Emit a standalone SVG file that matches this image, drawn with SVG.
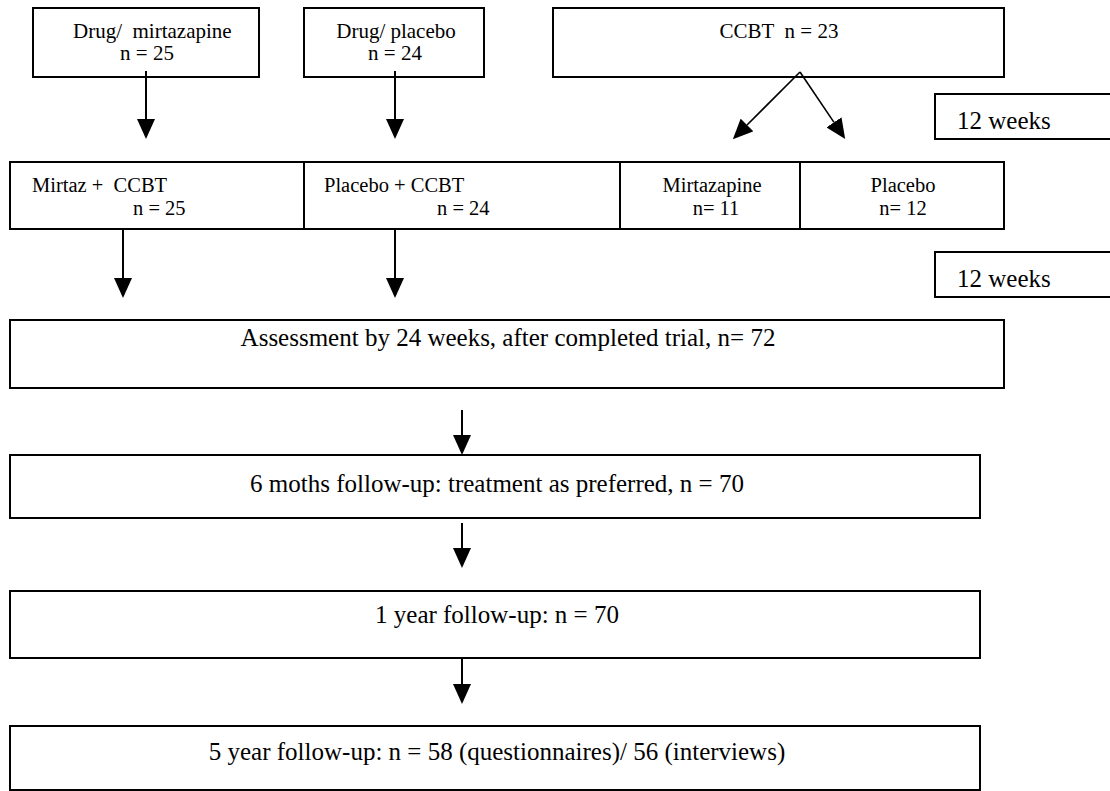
<svg xmlns="http://www.w3.org/2000/svg" width="1110" height="791" viewBox="0 0 1110 791">
<style>
  .box { fill: #fff; stroke: #000; stroke-width: 2; }
  .t { font-family: "Liberation Serif", "Times New Roman", serif; fill: #000; white-space: pre; }
  .s { font-size: 21px; }
  .s2 { font-size: 20.5px; }
  .l { font-size: 25px; }
  .m { text-anchor: middle; }
  .c { stroke: #000; stroke-width: 2; fill: none; }
  .d { stroke: #000; stroke-width: 1.6; fill: none; }
</style>
<defs>
  <marker id="ah" viewBox="0 -9 20 18" markerWidth="20" markerHeight="18" refX="0" refY="0" orient="auto" markerUnits="userSpaceOnUse">
    <path d="M0,-9 L20,0 L0,9 z" fill="#000"/>
  </marker>
</defs>
<rect width="1110" height="791" fill="#fff"/>

<g id="drug-mirtazapine">
  <rect class="box" x="33" y="8" width="226" height="69"/>
  <text class="t s" x="73" y="38">Drug/  mirtazapine</text>
  <text class="t s m" x="147" y="60">n = 25</text>
</g>
<g id="drug-placebo">
  <rect class="box" x="304" y="8" width="180" height="69"/>
  <text class="t s m" x="396" y="38">Drug/ placebo</text>
  <text class="t s m" x="395" y="60">n = 24</text>
</g>
<g id="ccbt">
  <rect class="box" x="553" y="8" width="451" height="69"/>
  <text class="t s m" x="779" y="38">CCBT  n = 23</text>
</g>
<g id="weeks-1">
  <rect class="box" x="935" y="94" width="185" height="45"/>
  <text class="t l" x="957" y="129">12 weeks</text>
</g>

<g id="mirtaz-ccbt">
  <rect class="box" x="10" y="162" width="294" height="67"/>
  <text class="t s2" x="32" y="192">Mirtaz +  CCBT</text>
  <text class="t s2" x="133" y="215">n = 25</text>
</g>
<g id="placebo-ccbt">
  <rect class="box" x="304" y="162" width="316" height="67"/>
  <text class="t s2" x="324" y="192">Placebo + CCBT</text>
  <text class="t s2" x="437" y="215">n = 24</text>
</g>
<g id="mirtazapine">
  <rect class="box" x="620" y="162" width="180" height="67"/>
  <text class="t s2 m" x="712" y="192">Mirtazapine</text>
  <text class="t s2 m" x="716" y="215">n= 11</text>
</g>
<g id="placebo">
  <rect class="box" x="800" y="162" width="204" height="67"/>
  <text class="t s2 m" x="903" y="192">Placebo</text>
  <text class="t s2 m" x="903" y="215">n= 12</text>
</g>
<g id="weeks-2">
  <rect class="box" x="935" y="252" width="185" height="45"/>
  <text class="t l" x="957" y="287">12 weeks</text>
</g>

<g id="assessment">
  <rect class="box" x="10" y="320" width="994" height="68"/>
  <text class="t l m" x="508" y="346">Assessment by 24 weeks, after completed trial, n= 72</text>
</g>
<g id="six-months">
  <rect class="box" x="10" y="455" width="970" height="63"/>
  <text class="t l m" x="497" y="492">6 moths follow-up: treatment as preferred, n = 70</text>
</g>
<g id="one-year">
  <rect class="box" x="10" y="591" width="970" height="67"/>
  <text class="t l m" x="497" y="623">1 year follow-up: n = 70</text>
</g>
<g id="five-year">
  <rect class="box" x="10" y="726" width="970" height="64"/>
  <text class="t l m" x="497" y="760">5 year follow-up: n = 58 (questionnaires)/ 56 (interviews)</text>
</g>

<g id="connectors">
  <line class="c" x1="146" y1="71" x2="146" y2="119" marker-end="url(#ah)"/>
  <line class="c" x1="395" y1="71" x2="395" y2="119" marker-end="url(#ah)"/>
  <line class="d" x1="800" y1="72" x2="747" y2="125" marker-end="url(#ah)"/>
  <line class="d" x1="800" y1="72" x2="834" y2="122.4" marker-end="url(#ah)"/>
  <line class="c" x1="123" y1="229" x2="123" y2="278" marker-end="url(#ah)"/>
  <line class="c" x1="395" y1="229" x2="395" y2="278" marker-end="url(#ah)"/>
  <line class="c" x1="462" y1="410" x2="462" y2="435" marker-end="url(#ah)"/>
  <line class="c" x1="462" y1="523" x2="462" y2="548" marker-end="url(#ah)"/>
  <line class="c" x1="462" y1="658" x2="462" y2="684" marker-end="url(#ah)"/>
</g>
</svg>
